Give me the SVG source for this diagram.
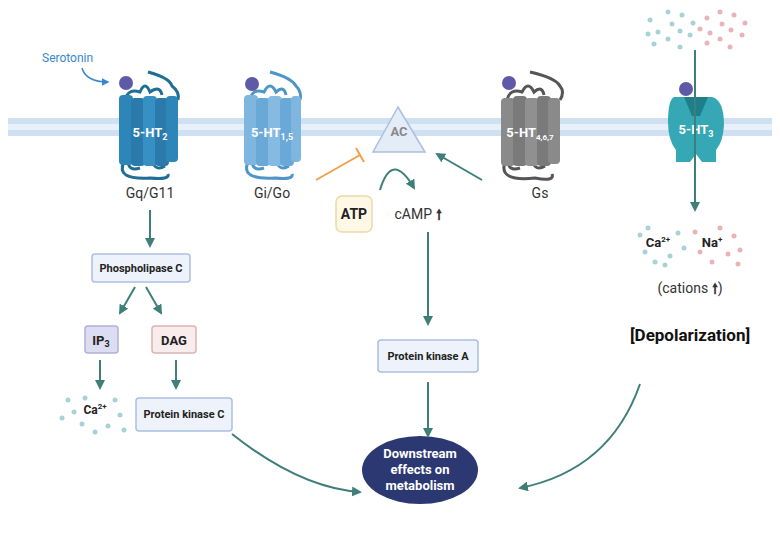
<svg xmlns="http://www.w3.org/2000/svg" width="780" height="534" viewBox="0 0 780 534">
<style>
text{font-family:Roboto,"Liberation Sans",sans-serif}
.lbl{font-size:14px;fill:#333;text-anchor:middle}
.box{fill:#eef3fb;stroke:#a9c0e0;stroke-width:1.5}
.bt{font-size:11px;font-weight:bold;fill:#222;text-anchor:middle}
.con{fill:none;stroke:#3f7f7a;stroke-width:2}
.rl{font-size:13px;font-weight:bold;fill:#fff;text-anchor:middle}
.cb{fill:#a8d3d6}.cp{fill:#e8b4b8}
</style>
<defs>
<marker id="ah" viewBox="0 0 10 10" refX="8" refY="5" markerWidth="5" markerHeight="5" orient="auto"><path d="M0,0L10,5L0,10z" fill="#3f7f7a"/></marker>
<marker id="ahb" viewBox="0 0 10 10" refX="8" refY="5" markerWidth="5" markerHeight="5" orient="auto"><path d="M0,0L10,5L0,10z" fill="#3a86d0"/></marker>
</defs>
<rect x="8" y="118" width="764" height="18" fill="#cfe0f3"/>
<rect x="8" y="124" width="764" height="6" fill="#e8f1fa"/>
<g id="serotonin"><text x="42" y="62" font-size="12" fill="#3a86d0">Serotonin</text>
<path d="M82,68 Q86,82 108,82" fill="none" stroke="#3a86d0" stroke-width="1.5" marker-end="url(#ahb)"/></g>
<g id="r2">
<path d="M125,100 Q128,88 140,92 Q145,80 150,92 Q160,85 162,95 M148,72 Q170,78 172,86 Q180,92 178,100 M128,160 Q128,172 140,168 M152,160 Q155,172 165,166 M124,162 Q115,180 150,178 Q170,180 168,174" fill="none" stroke="#1e6e95" stroke-width="3"/>
<circle cx="126" cy="83" r="7" fill="#5f5aa8"/>
<rect x="119" y="95" width="14" height="70" rx="4" fill="#2e86b8"/><rect x="131" y="98" width="14" height="68" rx="4" fill="#2a7bab"/><rect x="143" y="96" width="14" height="70" rx="4" fill="#3790c4"/><rect x="155" y="98" width="14" height="68" rx="4" fill="#2a7bab"/><rect x="166" y="96" width="12" height="66" rx="4" fill="#2e86b8"/>
<text x="150" y="137" class="rl">5-HT<tspan font-size="9" dy="3">2</tspan></text>
<text x="150" y="198" class="lbl">Gq/G11</text></g>
<g id="r15">
<path d="M250,100 Q252,88 264,92 Q270,80 276,92 Q284,85 286,95 M270,72 Q292,78 296,86 Q302,92 300,100 M252,160 Q252,172 264,168 M276,160 Q279,172 289,166 M248,162 Q240,180 275,178 Q294,180 292,174" fill="none" stroke="#4e96c8" stroke-width="3"/>
<circle cx="252" cy="84" r="7" fill="#5f5aa8"/>
<rect x="244" y="95" width="14" height="70" rx="4" fill="#7fb6e0"/><rect x="256" y="98" width="14" height="68" rx="4" fill="#6aa8d8"/><rect x="268" y="96" width="14" height="70" rx="4" fill="#85bbe3"/><rect x="280" y="98" width="14" height="68" rx="4" fill="#6aa8d8"/><rect x="291" y="96" width="10" height="66" rx="4" fill="#7fb6e0"/>
<text x="272" y="137" class="rl">5-HT<tspan font-size="9" dy="3">1,5</tspan></text>
<text x="272" y="198" class="lbl">Gi/Go</text></g>
<g id="ac"><path d="M398,107 L425,152 L373,152 Z" fill="#e4ecf8" stroke="#a9c0e0" stroke-width="1.5"/>
<text x="399" y="136" font-size="13" font-weight="bold" fill="#888" text-anchor="middle">AC</text></g>
<g id="r467">
<path d="M507,100 Q510,88 522,92 Q528,80 534,92 Q542,85 544,95 M530,72 Q556,78 560,86 Q565,92 560,100 M508,160 Q508,172 520,168 M532,160 Q535,172 545,166 M505,162 Q498,182 535,178 Q555,182 552,174" fill="none" stroke="#555" stroke-width="3"/>
<circle cx="509" cy="83" r="7" fill="#5f5aa8"/>
<rect x="501" y="98" width="14" height="68" rx="4" fill="#8a8a8a"/><rect x="513" y="96" width="14" height="70" rx="4" fill="#7a7a7a"/><rect x="525" y="98" width="14" height="68" rx="4" fill="#909090"/><rect x="537" y="96" width="14" height="70" rx="4" fill="#7a7a7a"/><rect x="548" y="98" width="12" height="66" rx="4" fill="#8a8a8a"/>
<text x="530" y="137" class="rl">5-HT<tspan font-size="8" dy="3">4,6,7</tspan></text>
<text x="540" y="198" class="lbl">Gs</text></g>
<g id="r3"><circle cx="686" cy="89" r="7" fill="#5f5aa8"/>
<path d="M674,97 L712,97 Q724,100 724,125 Q723,142 716,150 L716,162 L702,162 L696,154 L690,162 L676,162 L676,150 Q668,140 668,122 Q668,100 674,97Z" fill="#35a7b5"/>
<path d="M684,97 L708,97 L700,116 L692,116Z" fill="#1e7f8a"/>
<text x="696" y="134" class="rl">5-HT<tspan font-size="9" dy="3">3</tspan></text></g>
<g id="ions-top">
<circle cx="650" cy="20" r="2.5" class="cb"/><circle cx="668" cy="12" r="2.5" class="cb"/><circle cx="682" cy="15" r="2.5" class="cb"/><circle cx="648" cy="34" r="2.5" class="cb"/><circle cx="672" cy="24" r="2.5" class="cb"/><circle cx="658" cy="32" r="2.5" class="cb"/><circle cx="680" cy="31" r="2.5" class="cb"/><circle cx="693" cy="23" r="2.5" class="cb"/><circle cx="654" cy="44" r="2.5" class="cb"/><circle cx="668" cy="39" r="2.5" class="cb"/><circle cx="690" cy="35" r="2.5" class="cb"/><circle cx="680" cy="47" r="2.5" class="cb"/>
<circle cx="707" cy="18" r="2.5" class="cp"/><circle cx="720" cy="12" r="2.5" class="cp"/><circle cx="734" cy="15" r="2.5" class="cp"/><circle cx="700" cy="29" r="2.5" class="cp"/><circle cx="710" cy="33" r="2.5" class="cp"/><circle cx="722" cy="24" r="2.5" class="cp"/><circle cx="745" cy="23" r="2.5" class="cp"/><circle cx="731" cy="30" r="2.5" class="cp"/><circle cx="742" cy="35" r="2.5" class="cp"/><circle cx="707" cy="43" r="2.5" class="cp"/><circle cx="720" cy="39" r="2.5" class="cp"/><circle cx="730" cy="47" r="2.5" class="cp"/></g>
<g id="ions"><text x="658" y="247" font-size="13" font-weight="bold" fill="#222" text-anchor="middle">Ca<tspan font-size="8" dy="-5">2+</tspan></text>
<text x="712" y="247" font-size="13" font-weight="bold" fill="#222" text-anchor="middle">Na<tspan font-size="8" dy="-5">+</tspan></text>
<circle cx="640" cy="235" r="2.5" class="cb"/><circle cx="645" cy="252" r="2.5" class="cb"/><circle cx="655" cy="262" r="2.5" class="cb"/><circle cx="670" cy="256" r="2.5" class="cb"/><circle cx="678" cy="233" r="2.5" class="cb"/><circle cx="684" cy="248" r="2.5" class="cb"/><circle cx="648" cy="228" r="2.5" class="cb"/><circle cx="665" cy="265" r="2.5" class="cb"/>
<circle cx="695" cy="232" r="2.5" class="cp"/><circle cx="700" cy="252" r="2.5" class="cp"/><circle cx="712" cy="262" r="2.5" class="cp"/><circle cx="728" cy="254" r="2.5" class="cp"/><circle cx="734" cy="236" r="2.5" class="cp"/><circle cx="740" cy="250" r="2.5" class="cp"/><circle cx="720" cy="228" r="2.5" class="cp"/><circle cx="738" cy="264" r="2.5" class="cp"/>
<text x="690" y="293" class="lbl">(cations <tspan font-weight="bold">🠕</tspan>)</text>
<text x="690" y="341" font-size="17" font-weight="bold" fill="#111" text-anchor="middle">[Depolarization]</text></g>
<g id="atp"><rect x="336" y="196" width="36" height="36" rx="6" fill="#fff8e6" stroke="#ecd9a4" stroke-width="1.5"/><text x="354" y="219" font-size="14" font-weight="bold" fill="#222" text-anchor="middle">ATP</text></g>
<g id="camp"><text x="418" y="219" class="lbl">cAMP <tspan font-weight="bold">🠕</tspan></text></g>
<g id="plc"><rect x="92" y="254" width="98" height="28" rx="3" class="box"/><text x="141" y="272" class="bt">Phospholipase C</text></g>
<g id="ip3"><rect x="85" y="326" width="33" height="27" rx="3" fill="#dcdcf2" stroke="#b0b0dc" stroke-width="1.5"/><text x="101" y="345" font-size="13" font-weight="bold" fill="#222" text-anchor="middle">IP<tspan font-size="9" dy="2">3</tspan></text></g>
<g id="dag"><rect x="152" y="326" width="44" height="27" rx="3" fill="#f8ecec" stroke="#d8b4b4" stroke-width="1.5"/><text x="174" y="345" font-size="13" font-weight="bold" fill="#222" text-anchor="middle">DAG</text></g>
<g id="ca"><text x="95" y="414" font-size="12" font-weight="bold" fill="#222" text-anchor="middle">Ca<tspan font-size="8" dy="-5">2+</tspan></text>
<circle cx="68" cy="400" r="2.5" class="cb"/><circle cx="74" cy="412" r="2.5" class="cb"/><circle cx="82" cy="424" r="2.5" class="cb"/><circle cx="95" cy="432" r="2.5" class="cb"/><circle cx="108" cy="426" r="2.5" class="cb"/><circle cx="120" cy="415" r="2.5" class="cb"/><circle cx="115" cy="400" r="2.5" class="cb"/><circle cx="85" cy="398" r="2.5" class="cb"/><circle cx="62" cy="418" r="2.5" class="cb"/><circle cx="124" cy="430" r="2.5" class="cb"/></g>
<g id="pkc"><rect x="136" y="398" width="96" height="33" rx="3" class="box"/><text x="184" y="418" class="bt">Protein kinase C</text></g>
<g id="pka"><rect x="378" y="340" width="100" height="32" rx="3" class="box"/><text x="428" y="360" class="bt">Protein kinase A</text></g>
<g id="down"><ellipse cx="420" cy="470" rx="58" ry="34" fill="#2b3872"/>
<text x="420" y="458" font-size="13" font-weight="bold" fill="#fff" text-anchor="middle">Downstream</text>
<text x="420" y="474" font-size="13" font-weight="bold" fill="#fff" text-anchor="middle">effects on</text>
<text x="420" y="490" font-size="13" font-weight="bold" fill="#fff" text-anchor="middle">metabolism</text></g>
<g id="connectors">
<path d="M150,210 V246" class="con" marker-end="url(#ah)"/>
<path d="M135,287 L120,313" class="con" marker-end="url(#ah)"/>
<path d="M146,287 L161,313" class="con" marker-end="url(#ah)"/>
<path d="M100,360 V388" class="con" marker-end="url(#ah)"/>
<path d="M176,360 V388" class="con" marker-end="url(#ah)"/>
<path d="M316,180 L360,155 M356,148 L364,162" fill="none" stroke="#f0a048" stroke-width="2"/>
<path d="M482,180 L437,154" class="con" marker-end="url(#ah)"/>
<path d="M380,190 Q392,150 414,188" class="con" marker-end="url(#ah)"/>
<path d="M428,232 V324" class="con" marker-end="url(#ah)"/>
<path d="M428,382 V436" class="con" marker-end="url(#ah)"/>
<path d="M695,50 V210" class="con" marker-end="url(#ah)"/>
<path d="M232,434 Q300,488 360,492" class="con" marker-end="url(#ah)"/>
<path d="M640,384 Q610,470 520,488" class="con" marker-end="url(#ah)"/>
</g>
</svg>
